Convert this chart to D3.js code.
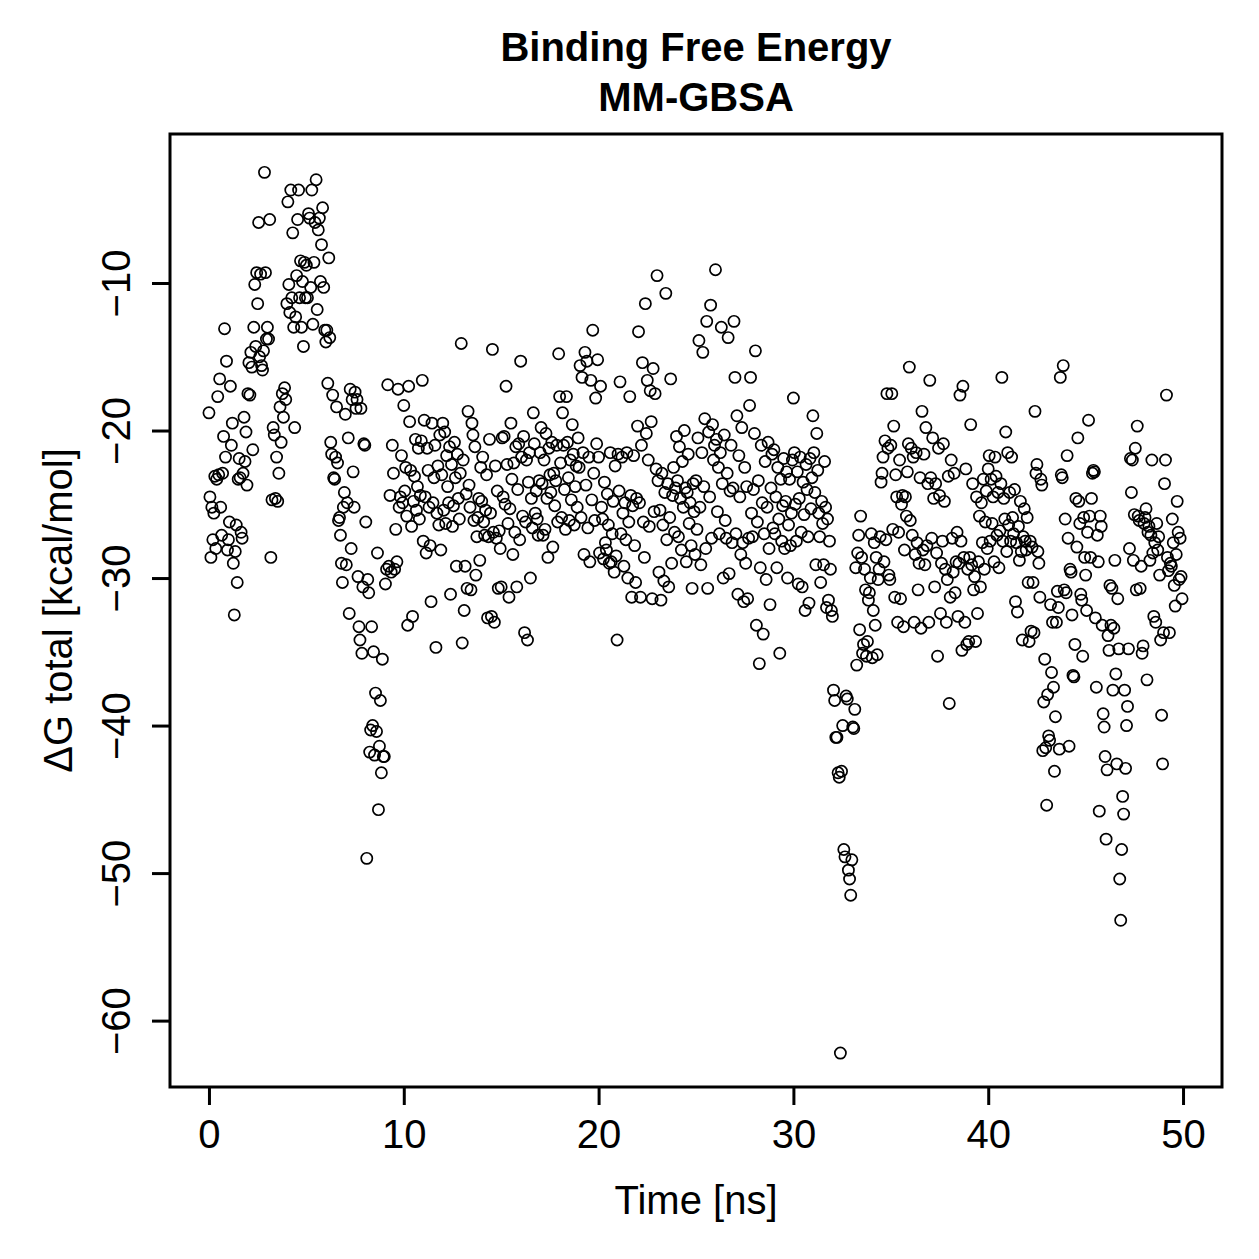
<!DOCTYPE html>
<html>
<head>
<meta charset="utf-8">
<script src="https://cdn.jsdelivr.net/npm/d3@7/dist/d3.min.js"></script>
<style>
    body { margin: 0; background: #fff; }
    text { font-family: "Liberation Sans", Arial, Helvetica, sans-serif; fill: #000; }
</style>
</head>
<body>
<div id="chart"></div>
<script>
// ---------------------------//
//            DATA            //
// ---------------------------//
const titleLines = ["Binding Free Energy", "MM-GBSA"];
const xLabel = "Time [ns]";
const yLabel = "\u0394G total [kcal/mol]";
const xTicks = [0, 10, 20, 30, 40, 50];
const yTicks = [-60, -50, -40, -30, -20, -10];
const xDomain = [-2, 52];
const yDomain = [-64.5, 0.1];

// delta G total per frame, one row for each ns of the run
const dgByNs = [
    [-18.8,-24.5,-28.6,-25.2,-27.4,-25.6,-23.1,-28.0,-23.3,-17.7,-23.0,-16.5,-25.2,-27.1,-22.9,-20.4,-13.1,-21.8,-15.3,-28.1],
    [-27.4,-26.2,-17.0,-21.0,-19.5,-29.0,-32.5,-28.2,-26.4,-30.3,-23.3,-21.9,-23.2,-26.9,-27.3,-22.9,-19.1,-22.1,-20.1,-23.7],
    [-17.5,-15.4,-17.6,-14.7,-15.7,-21.3,-13.0,-10.1,-14.3,-9.3,-11.4,-5.9,-15.0,-9.4,-15.6,-15.9,-14.6,-2.5,-9.3,-13.8],
    [-13.0,-13.8,-5.7,-28.6,-24.7,-19.8,-20.3,-24.6,-21.8,-24.8,-22.9,-18.4,-20.8,-17.5,-19.1,-17.1,-17.9],
    [-11.4,-4.5,-10.1,-12.0,-3.7,-11.0,-6.6,-13.0,-19.8,-12.3,-9.5,-5.7,-3.7,-11.0,-8.5,-13.0,-9.9,-14.3,-8.6,-11.0],
    [-8.8,-11.0,-5.3,-5.6,-10.3,-3.7,-12.8,-8.6,-5.9,-3.0,-11.8,-6.4,-5.6,-9.9,-7.4,-4.9,-10.3,-13.2],
    [-14.0,-13.2,-16.8,-8.3,-13.7,-20.8,-21.6,-17.6,-23.2,-23.3,-21.8,-18.4,-22.2,-26.1,-25.9,-27.1,-29.0,-30.3,-25.2,-24.2],
    [-18.9,-29.1,-24.9,-20.5,-32.4,-17.2,-28.0,-17.9,-22.8,-25.2,-17.4,-18.5,-17.9,-29.9,-33.3,-34.2,-18.5,-35.1,-30.6,-20.9],
    [-21.0,-26.2,-49.0,-30.1,-31.0,-41.8,-40.3,-33.3,-40.0,-35.0,-42.0,-37.8,-40.4,-28.3,-45.7,-41.4,-38.3,-43.2,-35.5,-42.1],
    [-42.1,-30.4,-29.4,-16.9,-29.2,-24.4,-29.6,-21.0,-22.9,-29.4,-26.7,-28.9,-17.2,-25.2,-24.5,-21.7,-24.9],
    [-18.3,-24.1,-22.5,-25.8,-33.2,-17.0,-19.4,-22.7,-26.5,-32.6,-24.8,-23.1,-20.6,-25.4,-23.8,-21.2,-26.0,-24.4,-20.7,-16.6],
    [-27.5,-19.3,-24.5,-28.3,-21.2,-22.7,-25.2,-27.8,-31.6,-19.5,-24.9,-23.2,-21.0,-34.7,-25.6,-22.4,-26.4,-20.3,-28.1,-23.0],
    [-19.5,-25.4,-20.1,-26.3,-21.7,-23.8,-24.9,-21.1,-31.1,-22.3,-26.5,-25.1,-20.8,-23.2,-29.2,-21.6,-24.6,-26.0,-22.9,-14.1],
    [-34.4,-22.0,-32.2,-29.2,-24.3,-30.7,-18.7,-23.7,-25.2,-30.8,-19.5,-20.3,-26.1,-21.1,-29.8,-27.2,-25.9,-24.6,-28.8,-22.5],
    [-24.8,-21.8,-26.2,-27.1,-25.4,-23.0,-32.7,-27.2,-20.6,-25.6,-32.6,-14.5,-26.9,-33.0,-22.4,-27.3,-24.1,-30.7,-26.8,-28.0],
    [-30.6,-20.5,-24.5,-20.4,-25.0,-17.0,-22.3,-26.3,-31.3,-25.3,-19.5,-23.3,-28.4,-22.2,-26.9,-21.1,-30.6,-24.0,-20.9,-27.4],
    [-15.3,-21.8,-25.8,-20.4,-33.7,-26.2,-22.0,-34.2,-23.5,-21.5,-30.0,-24.6,-26.6,-18.8,-20.9,-25.6,-24.1,-26.0,-27.1,-23.4],
    [-21.5,-19.8,-23.6,-27.1,-22.0,-26.7,-20.2,-24.6,-28.6,-21.2,-23.0,-24.2,-20.8,-27.9,-22.9,-25.1,-23.4,-21.0,-26.2,-14.8],
    [-17.7,-22.2,-25.9,-18.8,-21.0,-24.0,-26.7,-17.7,-20.8,-23.2,-26.1,-22.0,-24.7,-19.6,-21.6,-26.4,-23.8,-22.4,-25.2,-20.5],
    [-22.5,-15.6,-25.9,-16.4,-21.5,-28.4,-14.7,-23.7,-15.3,-26.6,-21.8,-28.9,-16.6,-24.7,-13.2,-22.9,-26.1,-17.8,-20.9,-15.2],
    [-21.8,-28.3,-17.0,-25.2,-26.0,-28.7,-23.5,-27.6,-28.1,-24.3,-26.4,-29.0,-21.5,-28.9,-27.0,-24.8,-29.6,-22.4,-28.5,-34.2],
    [-21.6,-24.1,-16.7,-27.0,-21.8,-25.6,-29.2,-24.9,-27.4,-21.5,-30.0,-26.2,-17.7,-24.4,-31.3,-25.1,-21.7,-27.8,-30.3,-24.6],
    [-19.7,-13.3,-24.9,-31.3,-21.0,-15.4,-26.2,-28.6,-11.4,-20.2,-16.6,-22.0,-26.5,-17.3,-19.4,-31.4,-15.8,-25.5,-17.5,-22.6],
    [-9.5,-23.4,-29.6,-25.4,-31.5,-22.9,-26.4,-30.2,-24.2,-10.7,-27.4,-23.6,-30.6,-25.9,-16.5,-29.0,-24.4,-22.5,-26.9,-23.9],
    [-20.4,-23.4,-27.2,-21.1,-24.6,-28.1,-22.1,-25.2,-20.0,-23.9,-28.9,-24.2,-21.6,-26.3,-24.9,-27.8,-30.7,-23.6,-25.5,-28.4],
    [-23.4,-26.7,-20.5,-13.9,-25.2,-29.1,-21.5,-14.7,-23.8,-19.2,-28.0,-12.6,-30.7,-20.1,-24.5,-11.5,-27.3,-19.6,-22.0,-21.0],
    [-9.1,-20.6,-25.5,-22.5,-27.0,-21.5,-13.0,-23.6,-30.0,-20.3,-26.1,-27.3,-22.9,-13.7,-29.7,-24.1,-21.0,-27.6,-23.9,-12.6],
    [-16.4,-27.0,-19.0,-31.1,-21.7,-24.5,-28.4,-19.8,-27.6,-31.6,-22.5,-29.0,-23.8,-31.4,-27.3,-18.3,-16.4,-25.6,-27.2,-24.0],
    [-20.2,-14.6,-33.2,-26.2,-23.4,-35.8,-29.3,-21.0,-24.9,-33.8,-27.0,-22.1,-30.1,-25.2,-20.8,-28.0,-31.8,-23.9,-21.6,-26.6],
    [-21.3,-27.0,-24.5,-29.3,-22.5,-26.0,-35.1,-23.3,-27.5,-25.1,-21.9,-28.0,-24.8,-22.8,-30.0,-26.4,-23.3,-27.8,-25.6,-22.0],
    [-17.8,-21.5,-25.0,-27.5,-22.8,-30.4,-24.6,-21.8,-26.9,-30.6,-23.5,-25.7,-32.2,-22.3,-24.0,-27.2,-31.7,-21.9,-25.3,-23.2],
    [-19.0,-21.5,-24.2,-29.1,-20.2,-22.7,-25.6,-27.2,-30.3,-24.8,-26.3,-29.1,-22.1,-25.2,-32.0,-26.0,-31.5,-27.5,-29.4,-32.2],
    [-32.6,-37.6,-38.3,-40.8,-40.8,-43.2,-43.5,-62.2,-43.1,-40.0,-48.4,-48.9,-38.0,-38.2,-49.8,-50.4,-51.5],
    [-49.1,-40.1,-40.2,-38.9,-29.3,-35.9,-28.3,-27.1,-33.5,-25.8,-28.6,-35.1,-34.5,-29.4,-30.8,-35.3,-34.3,-31.5,-31.0,-30.0],
    [-27.0,-35.4,-32.2,-27.6,-33.2,-28.6,-35.2,-30.1,-29.4,-27.2,-23.5,-22.9,-21.8,-28.9,-20.7,-27.4,-17.5,-21.2,-29.8,-30.1],
    [-21.0,-17.5,-26.7,-19.7,-31.3,-23.0,-24.5,-33.0,-26.9,-22.0,-31.4,-25.0,-24.4,-33.3,-28.1,-24.5,-25.8,-22.8,-20.9,-15.7],
    [-26.1,-21.2,-27.1,-21.8,-33.0,-28.4,-21.5,-27.6,-30.8,-29.0,-23.2,-33.4,-18.7,-28.1,-21.6,-29.1,-19.8,-27.8,-23.6,-33.0],
    [-16.6,-23.2,-27.3,-20.5,-24.6,-30.6,-23.6,-28.3,-35.3,-21.2,-24.4,-32.4,-29.0,-27.5,-20.9,-24.8,-29.4,-33.0,-30.1,-23.1],
    [-38.5,-31.3,-22.0,-27.3,-29.6,-22.9,-31.0,-28.9,-26.9,-32.6,-29.0,-17.6,-27.5,-34.9,-17.0,-28.6,-33.0,-22.6,-34.5,-29.4],
    [-34.3,-28.6,-19.6,-29.1,-23.6,-30.8,-29.9,-34.3,-24.5,-32.4,-28.9,-25.8,-30.6,-24.9,-27.6,-23.3,-29.4,-26.2,-24.1,-28.0],
    [-22.6,-21.7,-27.5,-23.3,-26.3,-24.5,-28.9,-21.8,-23.1,-27.1,-24.2,-29.3,-26.8,-23.6,-16.4,-27.5,-24.6,-26.0,-20.1,-28.2],
    [-21.5,-26.4,-24.2,-27.5,-21.8,-25.9,-27.0,-24.0,-31.6,-27.6,-32.3,-26.5,-28.8,-24.8,-28.2,-34.2,-27.2,-25.3,-27.5,-28.1],
    [-25.9,-30.3,-34.3,-27.5,-33.6,-27.9,-30.3,-33.7,-18.7,-22.9,-22.3,-28.2,-29.0,-31.3,-23.3,-23.7,-41.7,-38.4,-35.5,-41.5],
    [-45.4,-37.9,-40.7,-41.0,-31.8,-36.4,-33.0,-37.4,-43.1,-39.4,-33.0,-30.9,-32.0,-41.6,-16.4,-23.0,-23.2,-15.6,-30.8,-26.0],
    [-31.0,-21.7,-27.3,-41.4,-29.4,-29.6,-32.5,-36.6,-36.7,-34.5,-24.6,-27.9,-20.5,-24.8,-26.3,-31.1,-31.5,-35.3,-25.9,-28.6],
    [-29.8,-32.2,-26.9,-19.3,-25.8,-28.6,-24.6,-22.9,-22.7,-22.8,-32.7,-37.4,-27.1,-28.9,-45.8,-25.8,-26.5,-33.2,-39.2,-40.1],
    [-42.1,-47.7,-43.0,-33.9,-34.9,-30.5,-33.2,-30.7,-37.6,-33.4,-28.8,-36.5,-42.6,-31.4,-34.8,-50.4,-53.2,-48.4,-44.8,-46.0],
    [-37.6,-42.9,-40.0,-38.7,-34.8,-28.0,-21.9,-24.2,-22.0,-28.8,-25.7,-21.2,-30.8,-19.7,-25.8,-26.1,-30.7,-29.2,-35.1,-34.6],
    [-26.3,-25.9,-25.3,-36.9,-26.9,-26.5,-28.8,-27.1,-22.0,-28.3,-32.6,-27.6,-33.0,-26.3,-28.1,-27.2,-29.8,-34.2,-39.3,-42.6],
    [-33.7,-23.6,-22.0,-17.6,-28.6,-29.5,-33.7,-29.0,-29.2,-26.0,-27.6,-30.5,-31.9,-28.4,-24.8,-26.9,-30.1,-27.3,-29.9,-31.4]
];

// frames: time = ns + position inside the ns row
var frames = [];
dgByNs.forEach(function(row, ns) {
    row.forEach(function(v, j) {
        frames.push({ time: ns + j / row.length, dg: v });
    });
});

// ---------------------------//
//           LAYOUT           //
// ---------------------------//
const WIDTH = 1259, HEIGHT = 1259;
const MARGIN = { left: 170, right: 37, top: 134, bottom: 172 };
const FONT = 40;

const svg = d3.select("#chart").append("svg")
    .attr("width", WIDTH)
    .attr("height", HEIGHT);

svg.append("rect")
    .attr("width", WIDTH).attr("height", HEIGHT)
    .attr("fill", "#fff");

const xScale = d3.scaleLinear()
    .domain(xDomain)
    .range([MARGIN.left, WIDTH - MARGIN.right]);

const yScale = d3.scaleLinear()
    .domain(yDomain)
    .range([HEIGHT - MARGIN.bottom, MARGIN.top]);

// ---------------------------//
//           POINTS           //
// ---------------------------//
svg.append("g")
    .selectAll("circle")
    .data(frames)
    .enter()
    .append("circle")
    .attr("cx", d => xScale(d.time))
    .attr("cy", d => yScale(d.dg))
    .attr("r", 5.6)
    .attr("fill", "none")
    .attr("stroke", "#000")
    .attr("stroke-width", 1.7);

// ---------------------------//
//            AXES            //
// ---------------------------//
const xAxis = svg.append("g")
    .attr("transform", `translate(0,${HEIGHT - MARGIN.bottom})`)
    .call(d3.axisBottom(xScale).tickValues(xTicks).tickSize(18).tickPadding(15));

const yAxis = svg.append("g")
    .attr("transform", `translate(${MARGIN.left},0)`)
    .call(d3.axisLeft(yScale).tickValues(yTicks).tickSize(18));

[xAxis, yAxis].forEach(function(ax) {
    ax.select(".domain").remove();
    ax.selectAll(".tick line").attr("stroke", "#000").attr("stroke-width", 3);
    ax.selectAll(".tick text")
        .style("font-size", FONT + "px")
        .attr("fill", "#000");
});

// y tick labels are turned like R's las = 0
yAxis.selectAll(".tick text")
    .attr("x", null)
    .attr("dy", null)
    .attr("text-anchor", "middle")
    .attr("transform", "translate(-40,0) rotate(-90)");

// plot box
svg.append("rect")
    .attr("x", MARGIN.left)
    .attr("y", MARGIN.top)
    .attr("width", WIDTH - MARGIN.left - MARGIN.right)
    .attr("height", HEIGHT - MARGIN.top - MARGIN.bottom)
    .attr("fill", "none")
    .attr("stroke", "#000")
    .attr("stroke-width", 3);

// ---------------------------//
//           LABELS           //
// ---------------------------//
const midX = (MARGIN.left + WIDTH - MARGIN.right) / 2;
const midY = (MARGIN.top + HEIGHT - MARGIN.bottom) / 2;

svg.selectAll(".title")
    .data(titleLines)
    .enter()
    .append("text")
    .attr("class", "title")
    .attr("x", midX)
    .attr("y", (d, i) => 61 + i * 50)
    .attr("text-anchor", "middle")
    .style("font-size", FONT + "px")
    .style("font-weight", "bold")
    .text(d => d);

svg.append("text")
    .attr("x", midX)
    .attr("y", 1214)
    .attr("text-anchor", "middle")
    .style("font-size", FONT + "px")
    .text(xLabel);

svg.append("text")
    .attr("transform", `translate(72,${midY}) rotate(-90)`)
    .attr("text-anchor", "middle")
    .style("font-size", FONT + "px")
    .text(yLabel);
</script>
</body>
</html>
